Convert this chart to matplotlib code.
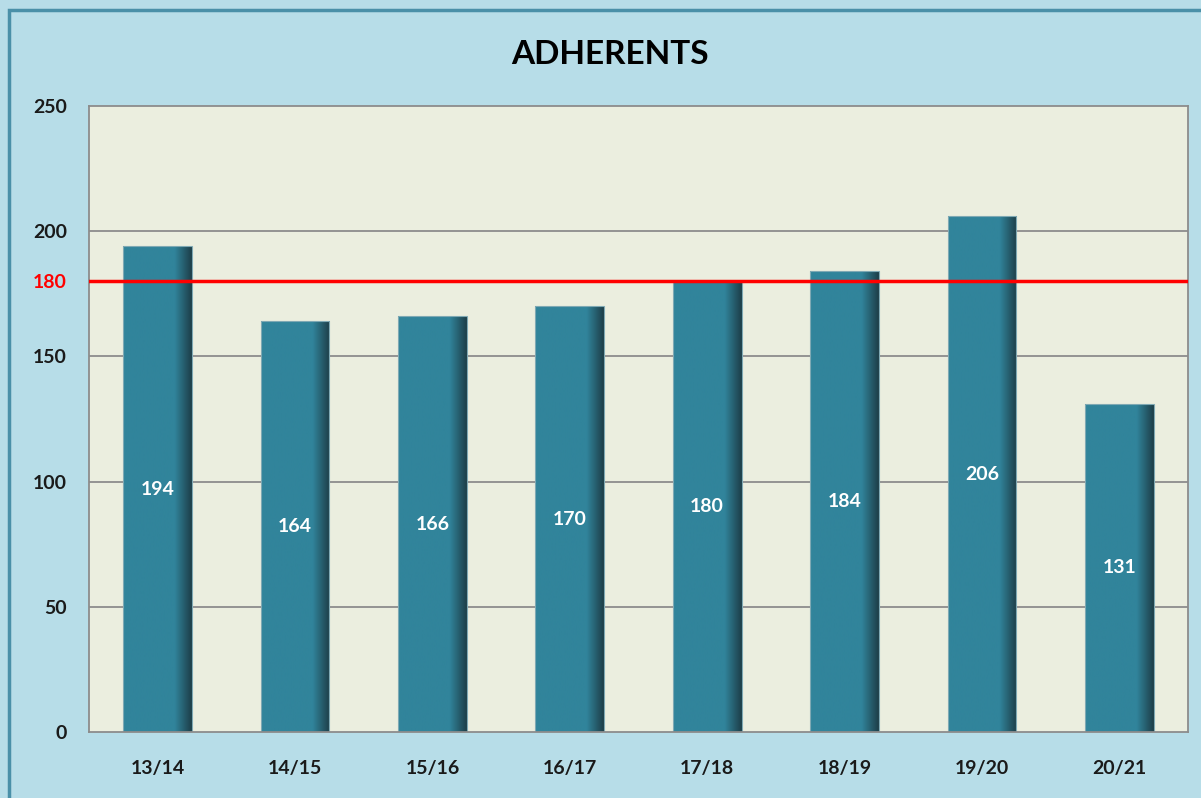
import matplotlib
matplotlib.use("Agg")
import matplotlib.pyplot as plt
import numpy as np
from matplotlib.colors import LinearSegmentedColormap
from matplotlib.patches import Rectangle

categories = ["13/14", "14/15", "15/16", "16/17", "17/18", "18/19", "19/20", "20/21"]
values = [194, 164, 166, 170, 180, 184, 206, 131]
target = 180
yticks = [0, 50, 100, 150, 200, 250]
title = "ADHERENTS"

plt.rcParams['font.family'] = ['Lato', 'DejaVu Sans']

W, H = 1201, 798
fig = plt.figure(figsize=(W / 100, H / 100), dpi=100)
fig.patch.set_facecolor("#b7dde8")
fig.patches.append(Rectangle((9 / W, -0.01), 1.2, 1 - 10 / H + 0.01, transform=fig.transFigure,
                             fill=False, edgecolor="#4a90a8", linewidth=2.5, zorder=0))

left, right, top, bottom = 89, 1188, 106, 732
ax = fig.add_axes([left / W, 1 - bottom / H, (right - left) / W, (bottom - top) / H])
ax.set_facecolor("#ebeedf")
ax.set_xlim(-0.5, len(categories) - 0.5)
ax.set_ylim(0, 250)

for yv in yticks[1:-1]:
    ax.axhline(yv, color="#8c8c8c", linewidth=1.3, zorder=1)

bar_color = "#31849b"
dark = "#1d3e48"
cmap = LinearSegmentedColormap.from_list("g", [(0, bar_color), (0.75, bar_color), (1.0, dark)])
grad = np.linspace(0, 1, 256).reshape(1, -1)
bw = 0.5
x = np.arange(len(categories))
bars = ax.bar(x, values, width=bw, color=bar_color, edgecolor="none", zorder=2)
for b in bars:
    x0, w, h = b.get_x(), b.get_width(), b.get_height()
    im = ax.imshow(grad, cmap=cmap, extent=[x0, x0 + w, 0, h], aspect="auto", zorder=2.1)
    im.set_clip_path(b)
    ax.add_patch(Rectangle((x0, 0), w, h, fill=False, edgecolor="#7fa9b4", linewidth=0.8, zorder=2.2))
    ax.text(x0 + w / 2, h / 2, f"{int(h)}", ha="center", va="center", color="white",
            fontsize=14, fontweight="bold", zorder=3)
ax.set_xlim(-0.5, len(categories) - 0.5)
ax.set_ylim(0, 250)

ax.axhline(target, color="#ff0000", linewidth=2.5, zorder=4)

ax.set_xticks(x)
ax.set_xticklabels(categories, fontsize=14, fontweight="bold", color="#1a1a1a")
ax.set_yticks(yticks)
ax.set_yticklabels([str(t) for t in yticks], fontsize=14, fontweight="bold", color="#1a1a1a")
ax.tick_params(axis="both", length=0)
ax.tick_params(axis="x", pad=20)
ax.tick_params(axis="y", pad=16)
ax.text(67 / W, 1 - 283 / H, str(target), transform=fig.transFigure, ha="right", va="center",
        color="#ff0000", fontsize=14, fontweight="bold")

for s in ax.spines.values():
    s.set_color("#8c8c8c")
    s.set_linewidth(1.3)

fig.text(610 / W, 1 - 54 / H, title, ha="center", va="center", fontsize=24, fontweight="bold", color="#000000")

fig.savefig("out.png", dpi=100, facecolor=fig.get_facecolor())
